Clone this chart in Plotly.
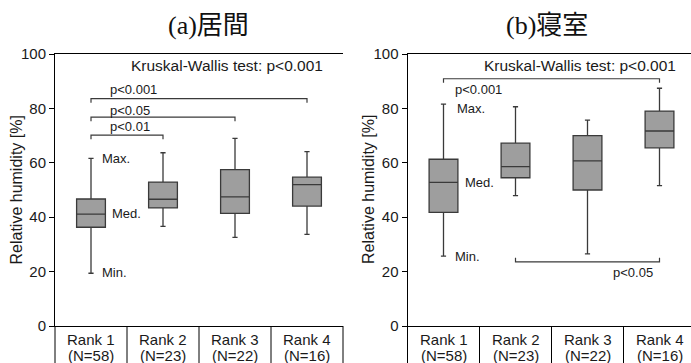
import plotly.graph_objects as go

# ---------------- data ----------------
ranks = ["Rank 1", "Rank 2", "Rank 3", "Rank 4"]
n_counts = [58, 23, 22, 16]

living_min = [19.4, 36.6, 32.6, 33.7]
living_q1 = [36.3, 43.4, 41.4, 44.1]
living_med = [41.1, 46.6, 47.5, 52.0]
living_q3 = [46.7, 52.9, 57.5, 54.7]
living_max = [61.6, 63.7, 69.0, 64.1]

bed_min = [25.7, 47.9, 26.5, 51.6]
bed_q1 = [41.8, 54.5, 50.0, 65.5]
bed_med = [52.8, 58.6, 60.7, 71.7]
bed_q3 = [61.3, 67.2, 70.0, 79.0]
bed_max = [81.6, 80.6, 75.7, 87.4]

# pairwise test brackets: (from rank idx, to rank idx, level, label)
living_pairs = [(0, 3, 83.6, "p<0.001"), (0, 2, 76.8, "p<0.05"), (0, 1, 70.2, "p<0.01")]
bed_pairs = [(0, 3, 90.9, "p<0.001"), (1, 3, 23.6, "p<0.05")]

titles = ["(a)居間", "(b)寝室"]
kw_text = "Kruskal-Wallis test: p<0.001"
y_title = "Relative humidity [%]"
y_ticks = [0, 20, 40, 60, 80, 100]

# ---------------- layout constants ----------------
W, H = 691, 363
SANS = "Liberation Sans, Arial, sans-serif"
TITLE_FONT = "Liberation Serif, Noto Sans CJK JP"
TXT = "#1a1a1a"
LINE = "#3a3a3a"
FILL = "#9e9e9e"

y_dom = [(H - 326) / H, (H - 54) / H]
x_dom1 = [55 / W, 343 / W]
x_dom2 = [407.5 / W, 1.0]
xr1 = [-0.5, 3.5]
xr2 = [-0.5, -0.5 + (W - 407.5) / 72.0]

fig = go.Figure()

xs = list(range(len(ranks)))
for ax, (mn, q1, md, q3, mx) in zip(
    ["", "2"],
    [(living_min, living_q1, living_med, living_q3, living_max),
     (bed_min, bed_q1, bed_med, bed_q3, bed_max)],
):
    fig.add_trace(go.Box(
        x=xs, lowerfence=mn, q1=q1, median=md, q3=q3, upperfence=mx,
        width=0.4, whiskerwidth=0.18, fillcolor=FILL,
        line=dict(color=LINE, width=1.3), boxpoints=False,
        xaxis="x" + ax, yaxis="y" + ax, showlegend=False,
    ))

common_y = dict(range=[0, 100], domain=y_dom, showline=True, linecolor="black",
                linewidth=1, ticks="outside", ticklen=5, tickcolor="black",
                tickvals=y_ticks, showgrid=False, zeroline=False, automargin=False,
                tickfont=dict(family=SANS, size=15, color=TXT))
common_x = dict(showline=True, mirror=True, linecolor="black", linewidth=1,
                showticklabels=False, ticks="", showgrid=False, zeroline=False,
                automargin=False)

fig.update_layout(
    width=W, height=H, autosize=False,
    margin=dict(l=0, r=0, t=0, b=0, pad=0, autoexpand=False),
    paper_bgcolor="white", plot_bgcolor="white",
    showlegend=False,
    xaxis=dict(domain=x_dom1, range=xr1, anchor="y", **common_x),
    yaxis=dict(anchor="x", **common_y),
    xaxis2=dict(domain=x_dom2, range=xr2, anchor="y2", **common_x),
    yaxis2=dict(anchor="x2", **common_y),
)

shapes = []
ann = []

for ax, xr, xd in [("x", xr1, x_dom1), ("x2", xr2, x_dom2)]:
    yax = "y" if ax == "x" else "y2"
    span = xr[1] - xr[0]
    # category separators below the axis
    for k in range(len(ranks) + 1):
        f = (k - 0.5 - xr[0]) / span
        if f <= 1.0001:
            shapes.append(dict(type="line", xref=ax + " domain", yref="paper",
                               x0=f, x1=f, y0=0, y1=y_dom[0],
                               line=dict(color="black", width=1)))
    for i, r in enumerate(ranks):
        ann.append(dict(x=i, y=(H - 339) / H, xref=ax, yref="paper",
                        text=r, showarrow=False,
                        font=dict(family=SANS, size=15, color=TXT),
                        xanchor="center", yanchor="middle"))
        ann.append(dict(x=i, y=(H - 355.5) / H, xref=ax, yref="paper",
                        text=f"(N={n_counts[i]})", showarrow=False,
                        font=dict(family=SANS, size=15, color=TXT),
                        xanchor="center", yanchor="middle"))
    # Kruskal-Wallis
    ann.append(dict(x=3.25, y=95.6, xref=ax, yref=yax, text=kw_text, showarrow=False,
                    xanchor="right", yanchor="middle",
                    font=dict(family=SANS, size=15.5, color=TXT)))
    # y axis title
    ann.append(dict(x=(xd[0] * W - 38.5) / W, y=(y_dom[0] + y_dom[1]) / 2,
                    xref="paper", yref="paper", text=y_title, textangle=-90,
                    showarrow=False, xanchor="center", yanchor="middle",
                    font=dict(family=SANS, size=16, color=TXT)))

# titles
for t, cx in zip(titles, [208, 547]):
    ann.append(dict(x=cx / W, y=(H - 25) / H, xref="paper", yref="paper", text=t,
                    showarrow=False, xanchor="center", yanchor="middle",
                    font=dict(family=TITLE_FONT, size=26, color="#111")))


def bracket(ax, yax, a, b, lvl, down=True):
    d = -1.5 if down else 1.5
    return dict(type="path", xref=ax, yref=yax,
                path=f"M {a},{lvl + d} L {a},{lvl} L {b},{lvl} L {b},{lvl + d}",
                line=dict(color=LINE, width=1.2))


small = dict(family=SANS, size=13, color=TXT)
# living room brackets
label_y_living = [86.8, 79.4, 73.2]
for (a, b, lvl, lab), ly in zip(living_pairs, label_y_living):
    shapes.append(bracket("x", "y", a, b, lvl))
    ann.append(dict(x=a + 0.23, y=ly, xref="x", yref="y", text=lab, showarrow=False,
                    xanchor="left", yanchor="middle", font=small))
# bedroom brackets
a, b, lvl, lab = bed_pairs[0]
shapes.append(bracket("x2", "y2", a, b, lvl))
ann.append(dict(x=a + 0.13, y=87.1, xref="x2", yref="y2", text=lab, showarrow=False,
                xanchor="left", yanchor="middle", font=small))
a, b, lvl, lab = bed_pairs[1]
shapes.append(bracket("x2", "y2", a, b, lvl, down=False))
ann.append(dict(x=b - 0.06, y=19.8, xref="x2", yref="y2", text=lab, showarrow=False,
                xanchor="right", yanchor="middle", font=small))

# Max./Med./Min. guide labels on the first box
ann += [
    dict(x=0.12, y=61.7, xref="x", yref="y", text="Max.", showarrow=False, xanchor="left", yanchor="middle", font=small),
    dict(x=0.26, y=41.5, xref="x", yref="y", text="Med.", showarrow=False, xanchor="left", yanchor="middle", font=small),
    dict(x=0.12, y=19.5, xref="x", yref="y", text="Min.", showarrow=False, xanchor="left", yanchor="middle", font=small),
    dict(x=0.16, y=80.1, xref="x2", yref="y2", text="Max.", showarrow=False, xanchor="left", yanchor="middle", font=small),
    dict(x=0.27, y=52.6, xref="x2", yref="y2", text="Med.", showarrow=False, xanchor="left", yanchor="middle", font=small),
    dict(x=0.13, y=25.7, xref="x2", yref="y2", text="Min.", showarrow=False, xanchor="left", yanchor="middle", font=small),
]

fig.update_layout(shapes=shapes, annotations=ann)
fig.write_html(
    "out.html",
    config={"displayModeBar": False},
    post_script="document.body.style.margin='0';document.body.style.overflow='hidden';",
)
